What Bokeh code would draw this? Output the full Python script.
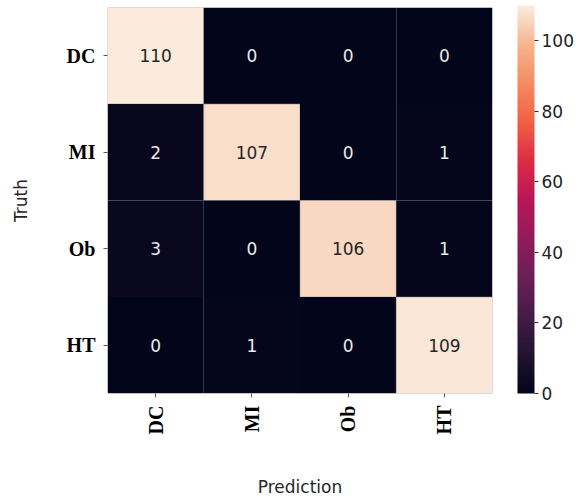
import math
from bokeh.plotting import figure
from bokeh.models import (ColumnDataSource, LinearColorMapper, ColorBar, FixedTicker,
                          FactorRange)
from bokeh.core.properties import value
from bokeh.embed import file_html
from bokeh.resources import INLINE

classes = ["DC", "MI", "Ob", "HT"]
row_DC = [110, 0, 0, 0]
row_MI = [2, 107, 0, 1]
row_Ob = [3, 0, 106, 1]
row_HT = [0, 1, 0, 109]
matrix = [row_DC, row_MI, row_Ob, row_HT]
cbar_ticks = [0, 20, 40, 60, 80, 100]

# rocket colormap anchors (seaborn)
anchors = ["#03051A", "#221331", "#451C47", "#6A1F56", "#921C5B", "#B91657",
           "#DD2C45", "#F06043", "#F58B62", "#F6B48E", "#FAEBDD"]


def hex2rgb(h):
    return tuple(int(h[i:i + 2], 16) for i in (1, 3, 5))


palette = []
n = 256
for k in range(n):
    t = k / (n - 1) * (len(anchors) - 1)
    i = min(int(t), len(anchors) - 2)
    f = t - i
    a, b = hex2rgb(anchors[i]), hex2rgb(anchors[i + 1])
    c = tuple(round(a[j] + (b[j] - a[j]) * f) for j in range(3))
    palette.append("#%02x%02x%02x" % c)

xs, ys, vals, tcol, labels, lalpha = [], [], [], [], [], []
for r, truth in enumerate(classes):
    for c, pred in enumerate(classes):
        v = matrix[r][c]
        xs.append(pred)
        ys.append(truth)
        vals.append(v)
        labels.append(str(v))
        tcol.append("#262626" if v > 60 else "#EAEAEA")
        lalpha.append(0.5 if v > 60 else 0.0)

src = ColumnDataSource(dict(x=xs, y=ys, v=vals, t=labels, tc=tcol, la=lalpha))
mapper = LinearColorMapper(palette=palette, low=0, high=110)

p = figure(width=575, height=500, x_range=FactorRange(*classes),
           y_range=FactorRange(*reversed(classes)),
           output_backend="svg", toolbar_location=None,
           min_border_left=107, min_border_right=83, min_border_top=7,
           min_border_bottom=105)
p.outline_line_color = None
p.grid.grid_line_color = None
p.background_fill_color = "white"

p.rect(x="x", y="y", width=1, height=1, source=src,
       fill_color={"field": "v", "transform": mapper},
       line_color="#8a8a8a", line_alpha="la", line_width=1)
p.text(x="x", y="y", text="t", source=src, text_color="tc",
       text_align="center", text_baseline="middle",
       text_font=value("DejaVu Sans"), text_font_size="17px")

for ax in (p.xaxis, p.yaxis):
    ax.axis_line_color = None
    ax.major_tick_in = 0
    ax.major_tick_out = 4
    ax.major_tick_line_color = "#555555"
    ax.major_label_text_font = "Liberation Serif"
    ax.major_label_text_font_style = "bold"
    ax.major_label_text_font_size = "20px"
    ax.major_label_text_color = "#000000"
    ax.axis_label_text_font = "DejaVu Sans"
    ax.axis_label_text_font_style = "normal"
    ax.axis_label_text_font_size = "17px"
    ax.axis_label_text_color = "#262626"

p.xaxis.major_label_orientation = math.pi / 2
p.xaxis.axis_label = "Prediction"
p.yaxis.axis_label = "Truth"
p.xaxis.axis_label_standoff = 40
p.yaxis.axis_label_standoff = 33
p.xaxis.major_label_standoff = 8
p.yaxis.major_label_standoff = 8

cb = ColorBar(color_mapper=mapper, ticker=FixedTicker(ticks=cbar_ticks),
              width=17, height=388, padding=0, margin=0,
              location=(410, 0),
              major_tick_in=0, major_tick_out=4, major_tick_line_color="#333333",
              label_standoff=3, bar_line_color=None,
              major_label_text_font="DejaVu Sans",
              major_label_text_font_size="17px",
              major_label_text_color="#222222",
              background_fill_color=None, border_line_color=None)
p.add_layout(cb, "center")

open("out.html", "w").write(file_html(p, INLINE))
